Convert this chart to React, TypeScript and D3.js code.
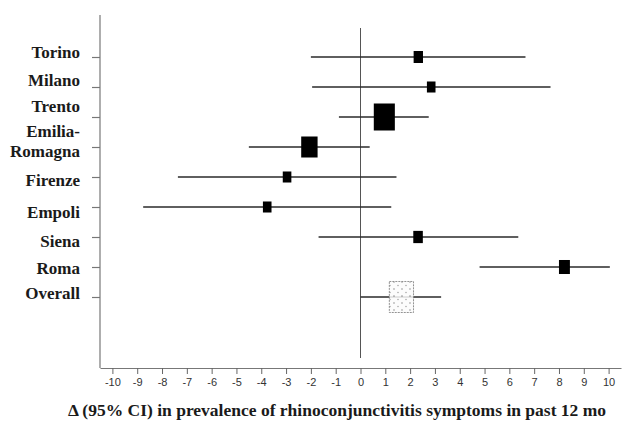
import React, { useEffect, useRef } from 'react'
import * as d3 from 'd3'

const sites = ['Torino', 'Milano', 'Trento', 'Emilia-Romagna', 'Firenze', 'Empoli', 'Siena', 'Roma', 'Overall']
const estimate = [2.33, 2.85, 0.96, -2.06, -2.96, -3.76, 2.32, 8.22, 1.65]
const lower = [-2.0, -1.95, -0.87, -4.5, -7.36, -8.76, -1.69, 4.8, 0.0]
const upper = [6.65, 7.66, 2.75, 0.37, 1.45, 1.24, 6.36, 10.05, 3.25]
// relative weight (%) of each centre, drawn as box area
const weight = [7.1, 6.0, 36.0, 21.8, 6.0, 6.0, 7.4, 9.7, 47.5]
const xTicks = [-10, -9, -8, -7, -6, -5, -4, -3, -2, -1, 0, 1, 2, 3, 4, 5, 6, 7, 8, 9, 10]
const xTitle = 'Δ (95% CI) in prevalence of rhinoconjunctivitis symptoms in past 12 mo'

const W = 633
const H = 430
const serif = '"Liberation Serif", "Times New Roman", serif'
const sans = '"Liberation Sans", Arial, sans-serif'
// the printed labels don't sit exactly on their ticks; nudge them like the original
const labelNudge = [-3, -5, -9, -4, 5, 7, 6, 3, -2]

export default function App() {
	const ref = useRef(null)

	useEffect(() => {
		document.body.style.margin = '0'
		const svg = d3.select(ref.current)
		svg.selectAll('*').remove()

		const x = d3.scaleLinear().domain([-10.5, 10.5]).range([100, 621])
		const y = d3.scalePoint().domain(sites).range([57, 297])
		const side = d3.scaleSqrt().domain([0, 100]).range([0, 45])

		const defs = svg.append('defs')
		const pat = defs.append('pattern')
			.attr('id', 'dots')
			.attr('patternUnits', 'userSpaceOnUse')
			.attr('width', 8).attr('height', 7)
		pat.append('rect').attr('width', 8).attr('height', 7).attr('fill', '#fbfbfb')
		pat.append('circle').attr('cx', 2).attr('cy', 2).attr('r', 0.7).attr('fill', '#666')
		pat.append('circle').attr('cx', 6).attr('cy', 5.5).attr('r', 0.7).attr('fill', '#888')

		// y axis: long spine plus a tick per row
		svg.append('line')
			.attr('x1', 100).attr('x2', 100).attr('y1', 15).attr('y2', 368)
			.attr('stroke', '#777').attr('stroke-width', 1.2)
		const yAxis = svg.append('g')
			.attr('transform', 'translate(100,0)')
			.call(d3.axisLeft(y).tickSize(8).tickSizeOuter(0).tickFormat(() => ''))
		yAxis.select('.domain').remove()
		yAxis.selectAll('line').attr('stroke', '#777').attr('stroke-width', 1.2)

		// x axis
		const xAxis = svg.append('g')
			.attr('transform', 'translate(0,368)')
			.call(d3.axisBottom(x).tickValues(xTicks).tickSize(6).tickSizeOuter(0).tickPadding(4)
				.tickFormat(d => String(d)))
		xAxis.select('.domain').attr('stroke', '#777').attr('stroke-width', 1.2)
		xAxis.selectAll('line').attr('stroke', '#666')
		xAxis.selectAll('text')
			.attr('font-family', sans).attr('font-size', 11).attr('fill', '#333')

		// no-effect line at 0
		svg.append('line')
			.attr('x1', x(0)).attr('x2', x(0)).attr('y1', 28).attr('y2', 358)
			.attr('stroke', '#555').attr('stroke-width', 1)

		// row labels
		const labels = svg.append('g')
			.attr('font-family', serif).attr('font-weight', 'bold').attr('font-size', 17)
			.attr('fill', '#1a1a1a').attr('text-anchor', 'end')
		sites.forEach((s, k) => {
			const parts = s.includes('-') ? [s.split('-')[0] + '-', s.split('-')[1]] : [s]
			const t = labels.append('text')
				.attr('x', 80)
				.attr('y', y(s) + labelNudge[k] - (parts.length - 1) * 10)
				.attr('dominant-baseline', 'middle')
			parts.forEach((p, i) => {
				t.append('tspan').attr('x', 80).attr('dy', i === 0 ? 0 : 20).text(p)
			})
		})

		// confidence intervals
		svg.append('g').selectAll('line')
			.data(sites)
			.join('line')
			.attr('x1', (d, i) => x(lower[i]))
			.attr('x2', (d, i) => x(upper[i]))
			.attr('y1', d => y(d)).attr('y2', d => y(d))
			.attr('stroke', '#2a2a2a').attr('stroke-width', 1.6)

		// point estimates
		const idx = sites.map((d, i) => i)
		const single = idx.filter(i => sites[i] !== 'Overall')
		const overall = idx.filter(i => sites[i] === 'Overall')
		svg.append('g').selectAll('rect')
			.data(single)
			.join('rect')
			.attr('x', i => x(estimate[i]) - side(weight[i]) * 0.39)
			.attr('y', i => y(sites[i]) - side(weight[i]) / 2)
			.attr('width', i => side(weight[i]) * 0.78)
			.attr('height', i => side(weight[i]))
			.attr('fill', '#000')
		svg.append('g').selectAll('rect')
			.data(overall)
			.join('rect')
			.attr('x', i => x(estimate[i]) - side(weight[i]) * 0.39)
			.attr('y', i => y(sites[i]) - side(weight[i]) / 2)
			.attr('width', i => side(weight[i]) * 0.78)
			.attr('height', i => side(weight[i]))
			.attr('fill', 'url(#dots)')
			.attr('fill-opacity', 0.85)
			.attr('stroke', '#777').attr('stroke-width', 0.8).attr('stroke-dasharray', '2,1')

		// axis title
		svg.append('text')
			.attr('x', 337).attr('y', 416)
			.attr('text-anchor', 'middle')
			.attr('font-family', serif).attr('font-weight', 'bold').attr('font-size', 17.5)
			.attr('fill', '#1a1a1a')
			.text(xTitle)
	}, [])

	return <svg ref={ref} width={W} height={H} style={{ display: 'block', background: '#fff' }}></svg>
}
